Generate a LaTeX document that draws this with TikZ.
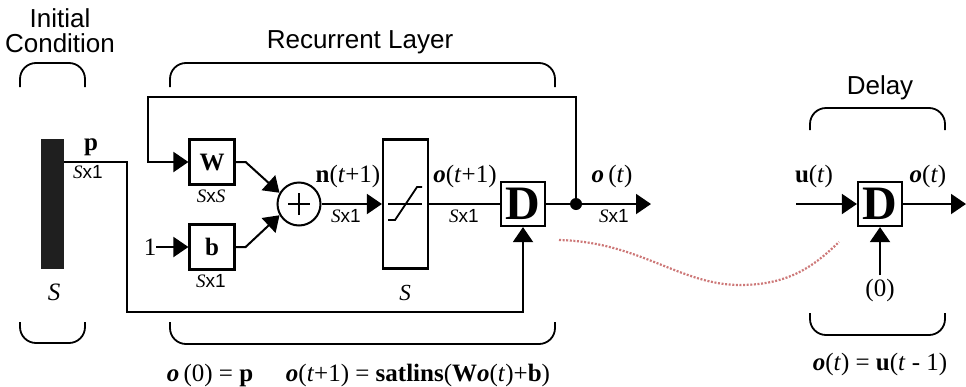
\documentclass[tikz,border=0pt]{standalone}
\usepackage{fontspec}
\setmainfont{Liberation Sans}
\newfontfamily\tms{Liberation Serif}
\usetikzlibrary{arrows.meta,positioning}
\definecolor{trailred}{RGB}{205,120,120}
\newcommand\fsz[1]{\fontsize{#1}{#1}\selectfont}
\newcommand\vo{{\bfseries\itshape o}}
\newcommand\sxone{{\fsz{19}{\tms\itshape S}x1}}
\newcommand\sxs{{\fsz{19}{\tms\itshape S}x{\tms\itshape S}}}

\begin{document}
\begin{tikzpicture}[
  x=1pt,y=-1pt,
  wire/.style={line width=2pt},
  arr/.style={wire,-{Triangle[length=15pt,width=20pt]}},
  box/.style={draw,line width=2.2pt,minimum size=45pt,inner sep=0pt,font=\fsz{25}\tms\bfseries},
  lab/.style={inner sep=0pt,font=\fsz{25}\tms},
  dimlab/.style={inner sep=0pt},
  title/.style={inner sep=0pt,align=center,font=\fontsize{26}{25}\selectfont},
  bracket/.style={line width=1.8pt,rounded corners=16pt},
  every edge/.style={draw,arr}
]
  \useasboundingbox (0,0) rectangle (966,386);

  % initial condition
  \node[title] (ictitle) at (60,31) {Initial\\Condition};
  \node[fill=black!88,minimum width=23pt,minimum height=130pt,inner sep=0pt] (bar) at (52.5,204) {};
  \node[lab,font=\fsz{25}\tms\itshape] (bars) at (54,292) {S};
  \node[lab,font=\fsz{25}\tms\bfseries] (plab) at (91,147) {p};
  \node[dimlab] (pdim) at (88,172) {\sxone};

  % recurrent layer
  \node[title] (rltitle) at (360,42) {Recurrent Layer};
  \node[box] (W) at (212,162) {W};
  \node[dimlab] (wdim) at (211,196) {\sxs};
  \node[box] (b) at (212,247) {b};
  \node[dimlab] (bdim) at (211,281) {\sxone};
  \node[lab,font=\fsz{25}\tms] (one) at (150,247) {1};
  \node[draw,circle,line width=2pt,minimum size=43pt,inner sep=0pt] (sum) at (299,204) {};
  \node[draw,line width=2.2pt,minimum width=45pt,minimum height=129pt,inner sep=0pt] (sat) at (405.5,204) {};
  \node[lab,font=\fsz{23}\tms\itshape] (sats) at (405,293) {S};
  \node[box,minimum size=44pt,font=\fsz{48}\tms\bfseries] (D1) at (523,204) {D};
  \node[circle,fill=black,minimum size=12pt,inner sep=0pt] (dot) at (576,204) {};
  \coordinate (o1end) at (651,204);
  \coordinate (fbk) at (148,97);
  \coordinate (pturn) at (127,312);

  \node[lab] (nlab) at (348,176) {\textbf{n}(\textit{t}+1)};
  \node[dimlab] (ndim) at (346,216) {\sxone};
  \node[lab] (o1lab) at (465,176) {\vo(\textit{t}+1)};
  \node[dimlab] (o1dim) at (464,216) {\sxone};
  \node[lab] (otlab) at (612,176) {\vo\,(\textit{t})};
  \node[dimlab] (otdim) at (614,216) {\sxone};

  % plus sign and satlins symbol
  \draw[wire] ([xshift=-11pt]sum.center) -- ([xshift=11pt]sum.center);
  \draw[wire] ([yshift=-11pt]sum.center) -- ([yshift=11pt]sum.center);
  \draw[line width=1.4pt] (sat.center) ++(-17.5,0) -- ++(34,0);
  \draw[line width=1.8pt] (sat.center) ++(-17.5,16) -- ++(7,0) -- ++(22,-33) -- ++(5,0);

  % connections
  \path (one) edge (b);
  \draw[arr] (W.east) -- ++(10,0) -- (sum.150);
  \draw[arr] (b.east) -- ++(10,0) -- (sum.210);
  \path (sum) edge (sat);
  \draw[wire] (sat) -- (D1);
  \draw[wire] (D1) -- (dot);
  \path (dot) edge (o1end);
  \draw[arr] (dot) |- (fbk) |- (W.west);
  \draw[arr] (bar.east |- W) -| (pturn) -| (D1.south);

  % delay
  \node[title] (dltitle) at (880,88) {Delay};
  \node[box,minimum size=44pt,font=\fsz{48}\tms\bfseries] (D2) at (880,204) {D};
  \coordinate (uin) at (796,204);
  \coordinate (o2end) at (966,204);
  \node[lab] (zero) at (880,290) {(0)};
  \node[lab] (ulab) at (814,176) {\textbf{u}(\textit{t})};
  \node[lab] (o2lab) at (928,176) {\vo(\textit{t})};
  \path (uin) edge (D2);
  \path (D2) edge (o2end);
  \draw[arr] (zero.north) ++(0,-3) -- (D2.south);

  % braces
  \draw[bracket] (20,87) |- (52,63) -| (85,87);
  \draw[bracket] (20,322) |- (52,343) -| (85,322);
  \draw[bracket] (170,87) |- (360,63) -| (555,87);
  \draw[bracket] (170,322) |- (360,344) -| (555,322);
  \draw[bracket] (810,130) |- (878,108) -| (945,130);
  \draw[bracket] (810,313) |- (878,335) -| (945,313);

  % equations
  \node[lab,font=\fsz{25}\tms] (eq0) at (210,375) {\vo\,(0) = \textbf{p}};
  \node[lab,font=\fsz{25}\tms] (eq1) at (418,375) {\vo(\textit{t}+1) = \textbf{satlins}(\textbf{W}\vo(\textit{t})+\textbf{b})};
  \node[lab,font=\fsz{25}\tms] (eq2) at (880,364) {\vo(\textit{t}) = \textbf{u}(\textit{t} - 1)};

  % link to delay detail
  \coordinate (tr1) at (559,240);
  \coordinate (tr2) at (740,285);
  \coordinate (tr3) at (839,242);
  \draw[trailred,line width=2.2pt,dash pattern=on 2pt off 1.6pt]
    (tr1) .. controls (640,242) and (680,285) .. (tr2)
    .. controls (790,285) and (815,265) .. (tr3);
\end{tikzpicture}
\end{document}
